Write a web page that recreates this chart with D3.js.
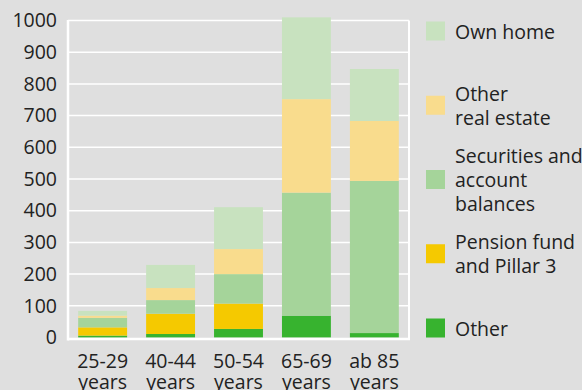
<!DOCTYPE html>
<html>
<head>
<meta charset="utf-8">
<script src="https://cdn.jsdelivr.net/npm/d3@7"></script>
<style>
  body { margin: 0; background: #dfdfdf; }
  svg { display: block; font-family: "Open Sans", sans-serif; }
</style>
</head>
<body>
<div id="chart"></div>
<script>
// age groups (two-line labels)
var ageGroups = ["25-29 years", "40-44 years", "50-54 years", "65-69 years", "ab 85 years"];

// stacked from the bottom up
var seriesNames = ["Other", "Pension fund and Pillar 3", "Securities and account balances", "Other real estate", "Own home"];
var otherVals = [6, 11, 27, 69, 14];
var pensionVals = [26, 64, 80, 0, 0];
var securitiesVals = [30, 43, 93, 388, 480];
var realEstateVals = [7, 38, 79, 295, 189];
var ownHomeVals = [15, 73, 132, 258, 164];

var yTicks = [0, 100, 200, 300, 400, 500, 600, 700, 800, 900, 1000];

// legend, top to bottom
var legendLabels = [["Own home"], ["Other", "real estate"], ["Securities and", "account", "balances"], ["Pension fund", "and Pillar 3"], ["Other"]];
var legendKeys = ["Own home", "Other real estate", "Securities and account balances", "Pension fund and Pillar 3", "Other"];

var colors = {
  "Own home": "#c8e2bf",
  "Other real estate": "#f9dc8d",
  "Securities and account balances": "#a5d49a",
  "Pension fund and Pillar 3": "#f5c900",
  "Other": "#37b32f"
};

var w = 582, h = 390;
var mLeft = 68, mRight = 409, mTop = 20.5, mBottom = 337.5;
var fs = 19.5;

var rows = ageGroups.map(function (g, i) {
  return {
    group: g,
    "Other": otherVals[i],
    "Pension fund and Pillar 3": pensionVals[i],
    "Securities and account balances": securitiesVals[i],
    "Other real estate": realEstateVals[i],
    "Own home": ownHomeVals[i]
  };
});

var svg = d3.select("#chart").append("svg").attr("width", w).attr("height", h);
svg.append("rect").attr("width", w).attr("height", h).attr("fill", "#dfdfdf");

var x = d3.scaleBand().domain(ageGroups).range([mLeft, mRight]).paddingInner(0.28).paddingOuter(0.15);
var y = d3.scaleLinear().domain([0, 1000]).range([mBottom, mTop]);

// grid
svg.append("g").selectAll("line").data(yTicks.slice(1)).enter().append("line")
  .attr("x1", mLeft).attr("x2", mRight)
  .attr("y1", function (d) { return y(d); }).attr("y2", function (d) { return y(d); })
  .attr("stroke", "#fff").attr("stroke-width", 1.5);

// right frame line
svg.append("line").attr("x1", mRight).attr("x2", mRight).attr("y1", y(1000)).attr("y2", mBottom + 2)
  .attr("stroke", "#fff").attr("stroke-width", 2);

// bars
var layers = d3.stack().keys(seriesNames)(rows);
svg.append("g").selectAll("g").data(layers).enter().append("g")
  .attr("fill", function (d) { return colors[d.key]; })
  .selectAll("rect").data(function (d) { return d; }).enter().append("rect")
  .attr("x", function (d) { return x(d.data.group); })
  .attr("width", x.bandwidth())
  .attr("y", function (d) { return y(d[1]); })
  .attr("height", function (d) { return y(d[0]) - y(d[1]); });

// axis lines
svg.append("line").attr("x1", mLeft).attr("x2", mLeft).attr("y1", mTop - 0.5).attr("y2", mBottom + 3)
  .attr("stroke", "#fff").attr("stroke-width", 2.5);
svg.append("line").attr("x1", mLeft).attr("x2", mRight + 1).attr("y1", mBottom + 1.5).attr("y2", mBottom + 1.5)
  .attr("stroke", "#fff").attr("stroke-width", 2.5);

// y tick labels
var yAxis = d3.axisLeft(y).tickValues(yTicks).tickFormat(d3.format("d")).tickSize(0).tickPadding(11);
var ya = svg.append("g").attr("transform", "translate(" + mLeft + ",0)").call(yAxis);
ya.select(".domain").remove();
ya.selectAll("text").attr("font-size", fs).attr("fill", "#222").attr("font-family", "Open Sans, sans-serif");

// x labels
var xl = svg.append("g").selectAll("text").data(ageGroups).enter().append("text")
  .attr("text-anchor", "middle")
  .attr("y", 368)
  .attr("font-size", fs).attr("fill", "#222");
xl.each(function (d) {
  var parts = d.split(" ");
  var t = d3.select(this);
  var line2 = parts.pop();
  var cx = x(d) + x.bandwidth() / 2;
  t.append("tspan").attr("x", cx).text(parts.join(" "));
  t.append("tspan").attr("x", cx).attr("dy", 21).text(line2);
});

// legend
var lg = svg.append("g").selectAll("g").data(legendKeys).enter().append("g")
  .attr("transform", function (d, i) { return "translate(426," + (31 + i * 74.25) + ")"; });
lg.append("rect").attr("x", 0).attr("y", -9.5).attr("width", 19).attr("height", 19)
  .attr("fill", function (d) { return colors[d]; });
lg.append("text").attr("x", 29).attr("font-size", fs).attr("fill", "#222")
  .each(function (d, i) {
    var lines = legendLabels[i];
    var t = d3.select(this);
    lines.forEach(function (l, j) {
      t.append("tspan").attr("x", 29)
        .attr("y", (j - (lines.length - 1) / 2) * 24 + 7.5)
        .text(l);
    });
  });
</script>
</body>
</html>
